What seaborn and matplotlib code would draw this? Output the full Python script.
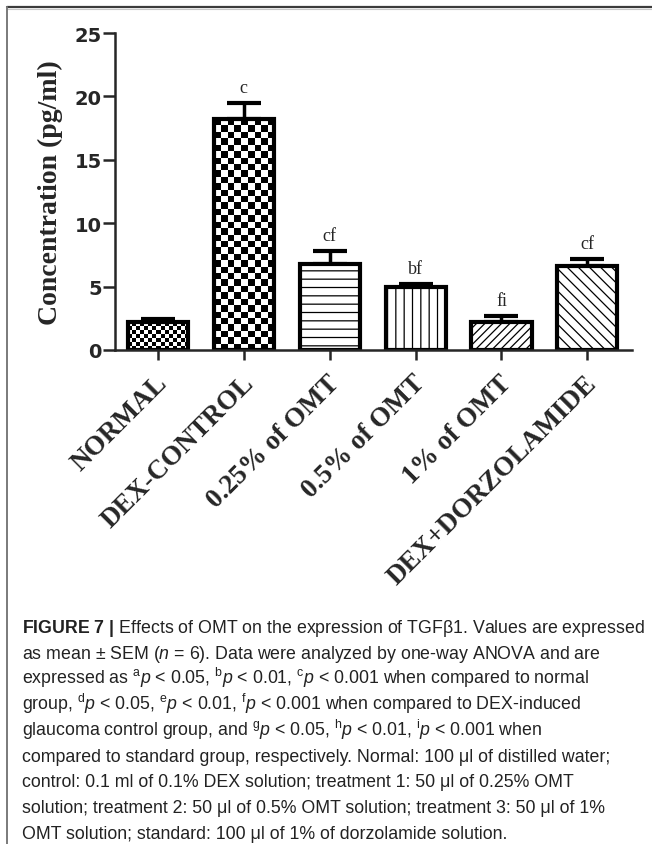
import numpy as np
import seaborn as sns
import matplotlib.pyplot as plt
import matplotlib.transforms as mtransforms
from matplotlib.colors import ListedColormap
from matplotlib.lines import Line2D

# values (mean and SEM, pg/ml)
groups = ['NORMAL', 'DEX-CONTROL', '0.25% of OMT', '0.5% of OMT', '1% of OMT', 'DEX+DORZOLAMIDE']
means = [2.2, 18.2, 6.8, 5.0, 2.2, 6.65]
sems = [0.25, 1.3, 1.0, 0.2, 0.5, 0.55]
signif = ['', 'c', 'cf', 'bf', 'fi', 'cf']
yticks = [0, 5, 10, 15, 20, 25]

caption = [
    r'$\mathbf{FIGURE\ 7\ |}$ Effects of OMT on the expression of TGFβ1. Values are expressed',
    r'as mean ± SEM ($\mathit{n}$ = 6). Data were analyzed by one-way ANOVA and are',
    r'expressed as ${}^{\mathrm{a}}\mathit{p}$ < 0.05, ${}^{\mathrm{b}}\mathit{p}$ < 0.01, '
    r'${}^{\mathrm{c}}\mathit{p}$ < 0.001 when compared to normal',
    r'group, ${}^{\mathrm{d}}\mathit{p}$ < 0.05, ${}^{\mathrm{e}}\mathit{p}$ < 0.01, '
    r'${}^{\mathrm{f}}\mathit{p}$ < 0.001 when compared to DEX-induced',
    r'glaucoma control group, and ${}^{\mathrm{g}}\mathit{p}$ < 0.05, ${}^{\mathrm{h}}\mathit{p}$ < 0.01, '
    r'${}^{\mathrm{i}}\mathit{p}$ < 0.001 when',
    'compared to standard group, respectively. Normal: 100 μl of distilled water;',
    'control: 0.1 ml of 0.1% DEX solution; treatment 1: 50 μl of 0.25% OMT',
    'solution; treatment 2: 50 μl of 0.5% OMT solution; treatment 3: 50 μl of 1%',
    'OMT solution; standard: 100 μl of 1% of dorzolamide solution.',
]

sns.set_style('ticks')
plt.rcParams['hatch.linewidth'] = 0.9
plt.rcParams['mathtext.fontset'] = 'custom'
plt.rcParams['mathtext.rm'] = 'Liberation Sans'
plt.rcParams['mathtext.it'] = 'Liberation Sans:italic'
plt.rcParams['mathtext.bf'] = 'Liberation Sans:bold'

W, H = 652, 845
fig = plt.figure(figsize=(W / 100, H / 100), dpi=100)
ax = fig.add_axes([115 / W, 1 - 351 / H, (632 - 115) / W, (351 - 34) / H])

sns.barplot(x=groups, y=means, ax=ax, color='white', saturation=1,
            edgecolor='black', linewidth=3, width=0.7)
ax.errorbar(range(len(groups)), means, yerr=[np.zeros(len(sems)), sems], fmt='none',
            ecolor='black', elinewidth=2.5, capsize=12, capthick=3, zorder=1)

ax.set_ylim(0, 25)
ax.set_xlim(-0.5, 5.52)
ax.set_yticks(yticks)
sns.despine(ax=ax)
for s in ['left', 'bottom']:
    ax.spines[s].set_linewidth(1.8)
ax.tick_params(axis='y', length=8.5, width=1.8, pad=1, labelsize=14)
ax.tick_params(axis='x', length=7, width=1.8, pad=14)
for lab in ax.get_yticklabels():
    lab.set_fontweight('bold')
    lab.set_family('DejaVu Sans')
shift = mtransforms.ScaledTranslation(6 / 100, 0, fig.dpi_scale_trans)
for lab in ax.get_xticklabels():
    lab.set(rotation=45, ha='right', va='center', rotation_mode='anchor',
            family='Liberation Serif', fontweight='bold', size=19.5)
    lab.set_transform(lab.get_transform() + shift)
ax.set_xlabel('')
ax.set_ylabel('Concentration (pg/ml)', family='Liberation Serif', fontweight='bold',
              size=20, labelpad=8)

# fill patterns
bars = ax.patches[:len(groups)]
hatches = [None, None, '--', '||', '////', '\\\\\\']
checker_px = [4, 6.5, None, None, None, None]
two = ListedColormap(['white', 'black'])
for bar, ht, sq in zip(bars, hatches, checker_px):
    bar.set_zorder(2)
    if ht:
        bar.set_hatch(ht)
    if sq:
        x0, y0, w, h = bar.get_x(), bar.get_y(), bar.get_width(), bar.get_height()
        p0 = ax.transData.transform((x0, y0))
        p1 = ax.transData.transform((x0 + w, y0 + h))
        nx = max(1, int(round((p1[0] - p0[0]) / sq)))
        ny = max(1, int(round((p1[1] - p0[1]) / sq)))
        grid = np.indices((ny, nx)).sum(axis=0) % 2
        im = ax.imshow(grid, cmap=two, extent=[x0, x0 + w, y0, y0 + h], aspect='auto',
                       interpolation='nearest', origin='lower', zorder=1.5)
        im.set_clip_path(bar)
        bar.set_facecolor('none')
ax.set_xlim(-0.5, 5.52)
ax.set_ylim(0, 25)

for i, (m, e, t) in enumerate(zip(means, sems, signif)):
    if t:
        ax.annotate(t, (i, m + e), xytext=(0, 5), textcoords='offset points',
                    ha='center', va='bottom', family='Liberation Serif', size=13)

# frame lines of the figure panel
fig.add_artist(Line2D([7 / W, 1], [1 - 8 / H] * 2, color='#3c3c3c', lw=1.6))
fig.add_artist(Line2D([7 / W, 1], [1 - 10 / H] * 2, color='#c8c8c8', lw=0.8))
fig.add_artist(Line2D([7 / W] * 2, [0, 1 - 8 / H], color='#7a7a7a', lw=1.4))

for k, line in enumerate(caption):
    fig.text(22 / W, 1 - (633 + 25.75 * k) / H, line, ha='left', va='baseline',
             family='Liberation Sans', size=12.8, color='#222222')

fig.savefig('out.png', dpi=100)
